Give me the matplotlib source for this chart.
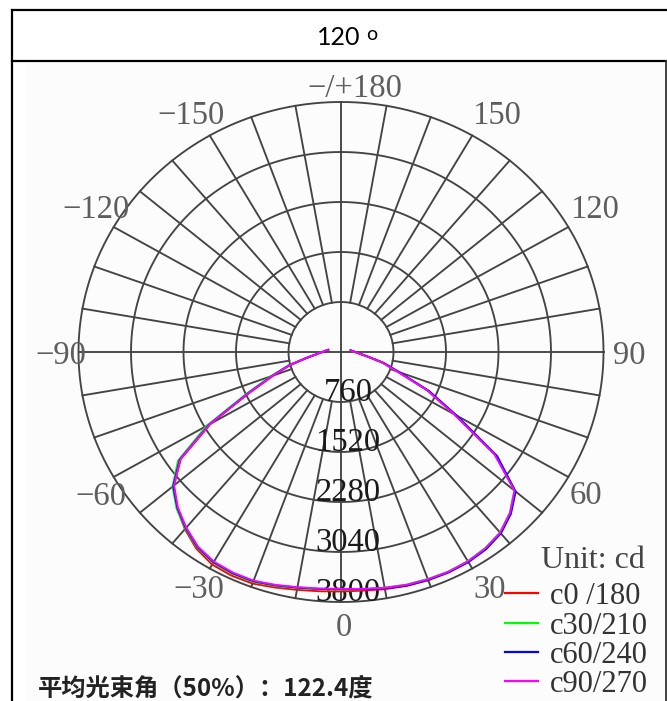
import numpy as np
import matplotlib.pyplot as plt
from matplotlib.lines import Line2D
from matplotlib.patches import Rectangle

# ---- data (candela vs. gamma angle, 0 = straight down)
angles = [-100, -95, -90, -85, -80, -75, -70, -65, -60, -55, -50, -45, -40, -35,
          -30, -25, -20, -15, -10, -5, 0, 5, 10, 15, 20, 25, 30, 35, 40, 45, 50,
          55, 60, 65, 70, 75, 80, 85, 90, 95, 100]

c0_180 = [185, 220, 268, 345, 495, 765, 1045, 1465, 2180, 2830, 3160, 3360, 3515,
          3650, 3730, 3750, 3745, 3705, 3670, 3650, 3640, 3640, 3660, 3680, 3690,
          3690, 3680, 3650, 3595, 3470, 3290, 2720, 1895, 1380, 875, 620, 380, 262,
          200, 165, 138]
c30_210 = [195, 230, 278, 358, 512, 790, 1085, 1520, 2250, 2880, 3185, 3365, 3505,
           3630, 3700, 3720, 3720, 3682, 3645, 3622, 3615, 3620, 3638, 3660, 3672,
           3680, 3670, 3638, 3580, 3455, 3275, 2730, 1900, 1378, 868, 615, 375, 260,
           200, 163, 138]
c60_240 = [188, 222, 270, 348, 498, 772, 1055, 1480, 2200, 2850, 3170, 3350, 3495,
           3620, 3690, 3710, 3708, 3672, 3636, 3614, 3605, 3620, 3648, 3675, 3688,
           3695, 3688, 3660, 3600, 3478, 3300, 2760, 1935, 1410, 900, 640, 392, 270,
           208, 170, 143]
c90_270 = [190, 225, 272, 350, 500, 770, 1050, 1470, 2190, 2840, 3155, 3340, 3485,
           3610, 3680, 3700, 3700, 3665, 3630, 3610, 3600, 3615, 3640, 3665, 3677,
           3685, 3675, 3645, 3585, 3460, 3280, 2715, 1890, 1375, 870, 620, 380, 263,
           203, 166, 140]

series = [c0_180, c30_210, c60_240, c90_270]
series_names = ['c0 /180', 'c30/210', 'c60/240', 'c90/270']
series_colors = ['#ff0000', '#00ff00', '#0000ff', '#ff00ff']

ring_values = [760, 1520, 2280, 3040, 3800]
spoke_angles = list(range(0, 360, 10))
angle_ticks = [180, -150, 150, -120, 120, -90, 90, -60, 60, -30, 30, 0]
angle_tick_labels = ['\u2212/+180', '\u2212150', '150', '\u2212120', '120', '\u221290',
                     '90', '\u221260', '60', '\u221230', '30', '0']

title = '120'
unit_text = 'Unit: cd'
beam_text = '平均光束角（50%）：122.4度'

# ---- layout (pixels of the 667x701 picture)
W, H = 667, 701
CX, CY = 341.0, 352.0          # pole of the diagram
KX, KY = 262.5 / 3800, 250.0 / 3800   # px per cd (source picture is a bit stretched)
SERIF = 'Liberation Serif'


def px(x, y):
    return (x - CX) / KX, (CY - y) / KY


def polar(r, deg):
    t = np.radians(deg)
    return np.asarray(r) * np.sin(t), -np.asarray(r) * np.cos(t)


fig = plt.figure(figsize=(W / 100, H / 100), dpi=100)
fig.patch.set_facecolor('white')
ax = fig.add_axes([0, 0, 1, 1])
ax.set_xlim(-CX / KX, (W - CX) / KX)
ax.set_ylim(-(H - CY) / KY, CY / KY)
ax.axis('off')

# faint background of the pasted diagram
fig.add_artist(Rectangle((27 / W, 0), (664 - 27) / W, 1 - 63 / H,
                         transform=fig.transFigure, color='#fcfcfc', zorder=0))

# ---- grid
grid_kw = dict(color='#444444', lw=1.35, zorder=1)
t = np.linspace(0, 360, 721)
for r in ring_values:
    gx, gy = polar(np.full_like(t, r), t)
    ax.plot(gx, gy, **grid_kw)
rmax = ring_values[-1]
for a in spoke_angles:
    if a in (180, 270):
        continue
    r0 = -rmax if a in (0, 90) else ring_values[0]
    sx, sy = polar([r0, rmax], [a, a])
    ax.plot(sx, sy, **grid_kw)

# ---- angle labels
nudge = {180: (150, -90), -150: (-146, 46), 150: (133, 46), -120: (0, 144),
         120: (33, 144), -90: (47, 0), 90: (-31, 0), -60: (70, -68),
         60: (-97, -53), -30: (-31, 27), 30: (32, 37), 0: (-7, 16)}
for a, lab in zip(angle_ticks, angle_tick_labels):
    lx, ly = polar(4150, a)
    dx, dy = nudge[a]
    ax.text(lx + 50 + dx, ly + dy, lab, family=SERIF, fontsize=23.5,
            color='#5e5e5e', ha='center', va='center_baseline', zorder=3)

# ---- ring value labels
for r in ring_values:
    ax.text(100, -(r - 200), str(r), family=SERIF, fontsize=23.5,
            color='#1a1a1a', ha='center', va='center_baseline', zorder=4)

# ---- curves
for vals, col in zip(series, series_colors):
    cx_, cy_ = polar(vals, angles)
    ax.plot(cx_, cy_, color=col, lw=1.4, zorder=5)

# ---- legend
ux, uy = px(593, 557)
ax.text(ux, uy, unit_text, family=SERIF, fontsize=23, color='#444444',
        ha='center', va='center_baseline', zorder=6)
rows = [593, 622.5, 652, 681]
for name, col, ry in zip(series_names, series_colors, rows):
    x0, y0 = px(505, ry)
    x1, _ = px(538, ry)
    ax.add_line(Line2D([x0, x1], [y0, y0], color=col, lw=1.6, zorder=6))
    tx, _ = px(550, ry)
    ax.text(tx, y0, name, family=SERIF, fontsize=22, color='#333333',
            ha='left', va='center_baseline', zorder=6)

bx, by = px(38, 686)
ax.text(bx, by, beam_text, family=['Noto Sans CJK SC', 'DejaVu Sans'],
        fontsize=17.5, fontweight='bold', color='#222222', ha='left',
        va='center_baseline', zorder=6)

# ---- table frame and header
frame_kw = dict(transform=fig.transFigure, color='black', lw=1.6, zorder=10)
fig.add_artist(Line2D([12 / W, 1], [1 - 10 / H] * 2, **frame_kw))
fig.add_artist(Line2D([12 / W, 1], [1 - 61 / H] * 2, **frame_kw))
fig.add_artist(Line2D([12 / W] * 2, [1 - 10 / H, 0], **frame_kw))
fig.add_artist(Line2D([665.5 / W] * 2, [1 - 61 / H, 0], transform=fig.transFigure,
                      color='#333333', lw=1.3, zorder=10))
fig.text(338.5 / W, 1 - 45 / H, title, family='Lato', fontsize=18,
         ha='center', va='baseline', color='black')
fig.text(372 / W, 1 - 40 / H, 'o', family='Lato', fontsize=14,
         ha='center', va='baseline', color='black')

fig.savefig('out.png', dpi=100)
